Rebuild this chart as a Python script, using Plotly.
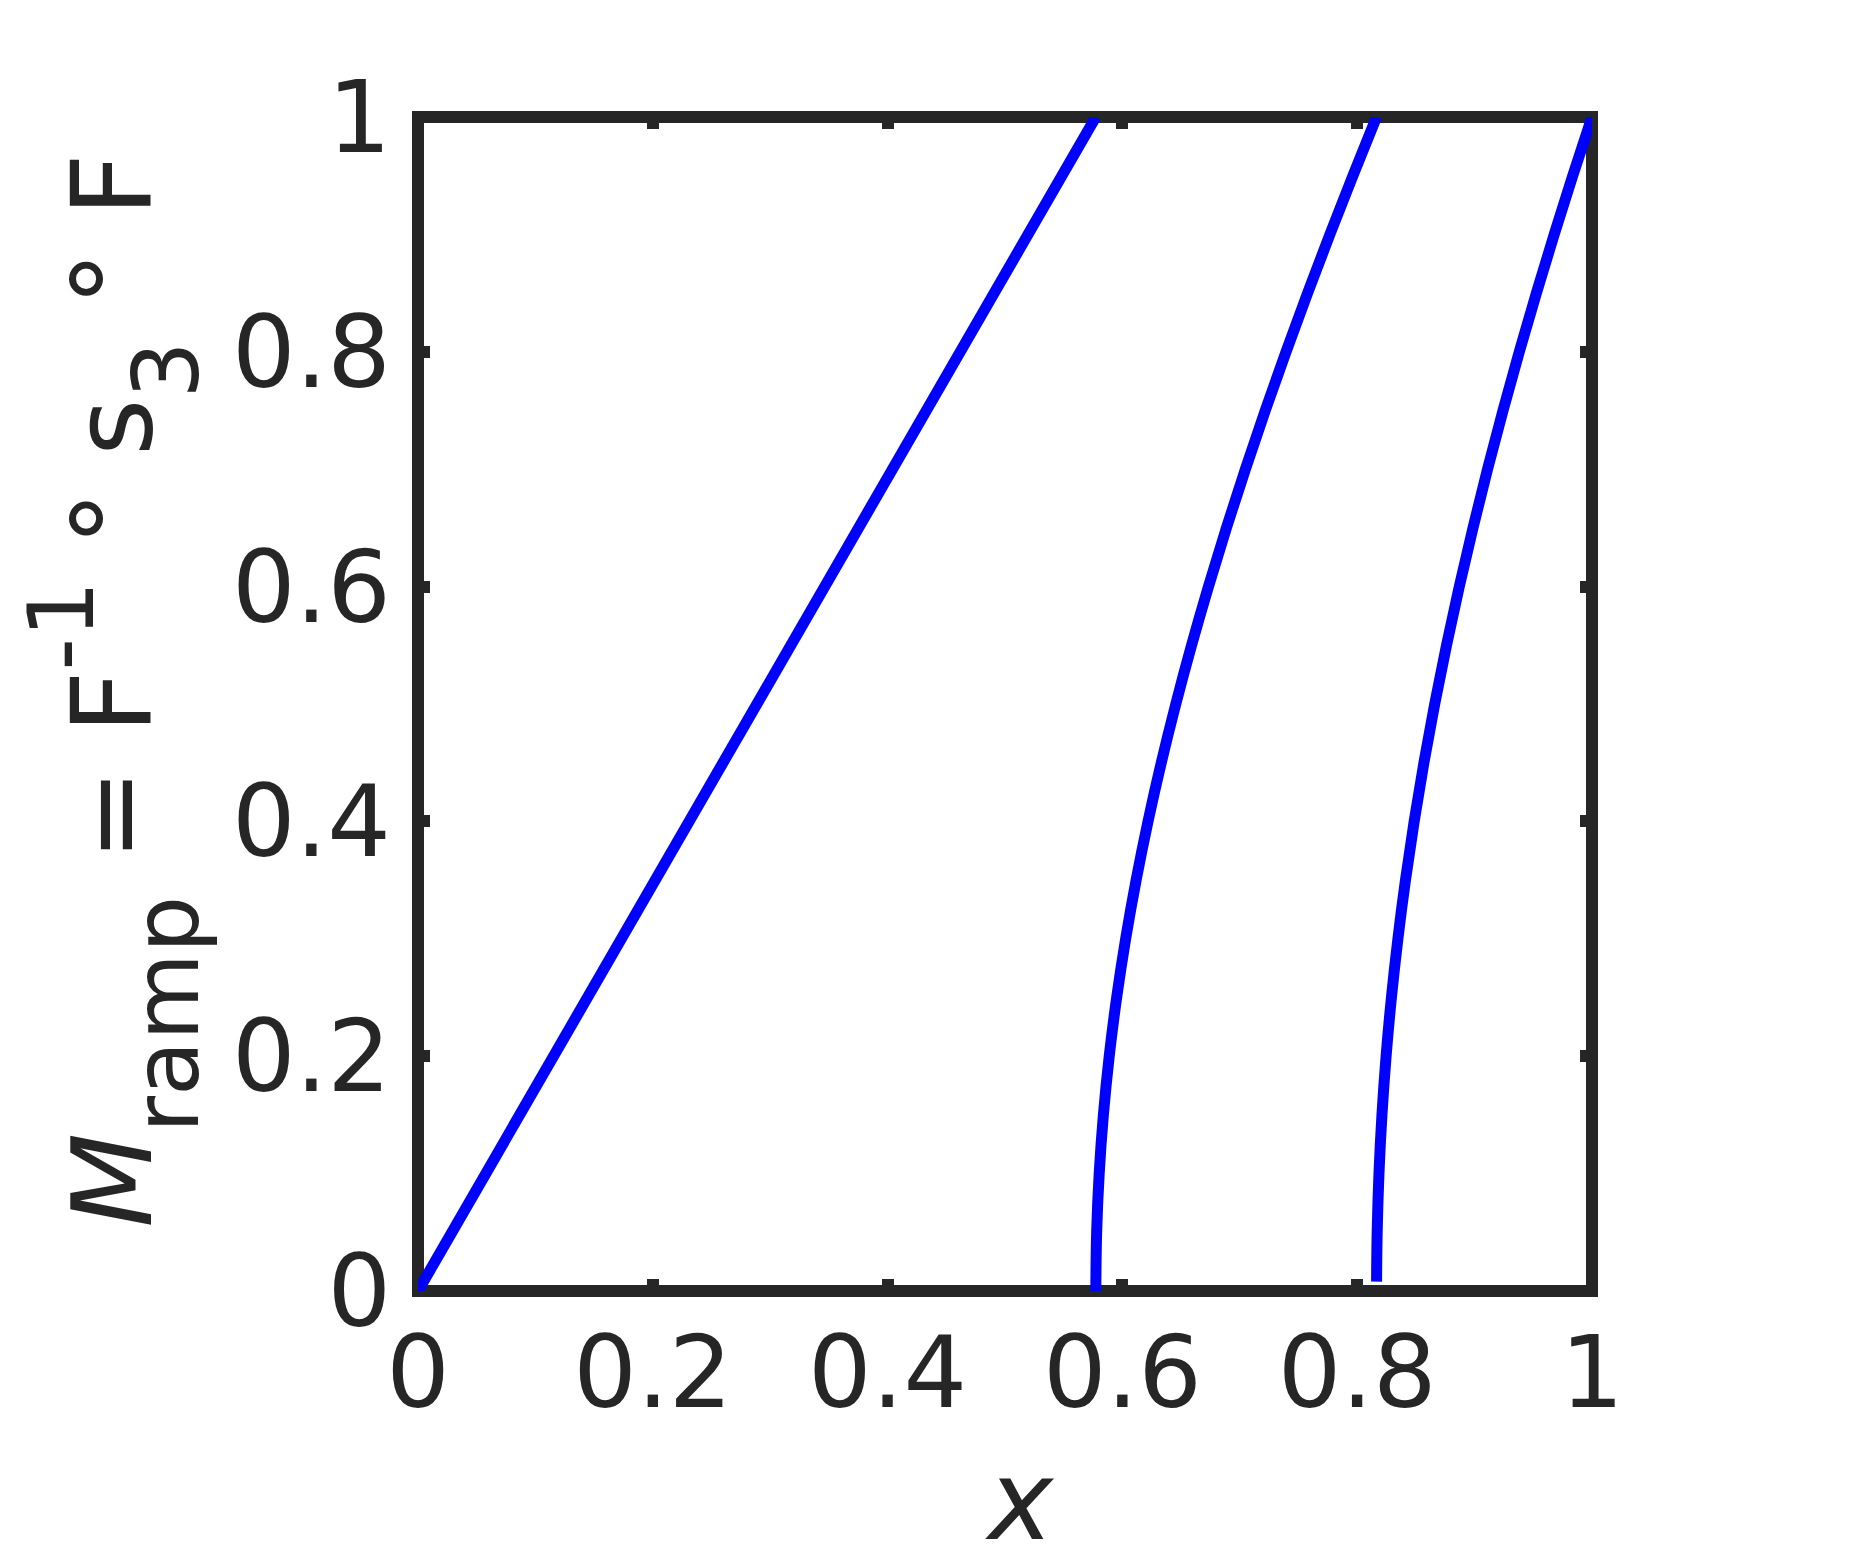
import plotly.graph_objects as go

# Branch 1 (linear)
b1_x = [0.0, 0.57735]
b1_y = [0.0, 1.0]

# Branch 2
b2_y = [0.0, 0.05, 0.1, 0.15, 0.2, 0.25, 0.3, 0.35, 0.4, 0.45, 0.5, 0.55,
        0.6, 0.65, 0.7, 0.75, 0.8, 0.85, 0.9, 0.95, 1.0]
b2_x = [0.57735, 0.57807, 0.58023, 0.58381, 0.58878, 0.59512, 0.60277,
        0.61170, 0.62183, 0.63311, 0.64550, 0.65891, 0.67330, 0.68860, 0.70475,
        0.72169, 0.73937, 0.75774, 0.77675, 0.79635, 0.81650]

# Branch 3
b3_y = [0.008, 0.05, 0.1, 0.15, 0.2, 0.25, 0.3, 0.35, 0.4, 0.45, 0.5, 0.55,
        0.6, 0.65, 0.7, 0.75, 0.8, 0.85, 0.9, 0.95, 1.0]
b3_x = [0.81650, 0.81701, 0.81854, 0.82108, 0.82462, 0.82916, 0.83467, 0.84113,
        0.84853, 0.85684, 0.86603, 0.87607, 0.88694, 0.89861, 0.91104, 0.92421,
        0.93808, 0.95263, 0.96782, 0.98362, 1.0]

tick_vals = [0, 0.2, 0.4, 0.6, 0.8, 1]
tick_text = ["0", "0.2", "0.4", "0.6", "0.8", "1"]

SUBF = "<span style='font-size:90px;baseline-shift:-24px'>{}</span>"
SUPF = "<span style='font-size:90px;baseline-shift:12px'>{}</span>"
x_title = "<i>x</i>"
y_title = ("<i>M</i><sub>" + SUBF.format("ramp") + "</sub> = F<sup>" + SUPF.format("-1")
           + "</sup> ° s<sub>" + SUBF.format("3") + "</sub> ° F")

BLUE = "#0000ff"
DARK = "#262626"
FONT = "DejaVu Sans"

fig = go.Figure()
for xs, ys in [(b1_x, b1_y), (b2_x, b2_y), (b3_x, b3_y)]:
    fig.add_trace(go.Scatter(x=xs, y=ys, mode="lines",
                             line=dict(color=BLUE, width=11, shape="spline", smoothing=1.0),
                             showlegend=False, hoverinfo="skip"))

axis_common = dict(
    range=[0, 1], tickvals=tick_vals, ticktext=tick_text,
    ticks="inside", ticklen=12, tickwidth=12, tickcolor=DARK,
    mirror="ticks", showline=False, showgrid=False, zeroline=False,
    automargin=False,
    tickfont=dict(family=FONT, size=100, color=DARK),
)

fig.update_xaxes(**axis_common, ticklabelstandoff=15)
fig.update_yaxes(**axis_common, ticklabelstandoff=26)

fig.add_shape(type="rect", xref="paper", yref="paper", x0=0, y0=0, x1=1, y1=1,
              line=dict(color=DARK, width=12), fillcolor="rgba(0,0,0,0)", layer="below")

fig.add_annotation(text=x_title, xref="paper", yref="paper", x=0.5128, y=-0.179,
                   xanchor="center", yanchor="middle", showarrow=False,
                   font=dict(family=FONT, size=110, color=DARK))
fig.add_annotation(text=y_title, xref="paper", yref="paper", x=-0.259, y=0.512,
                   xanchor="center", yanchor="middle", showarrow=False, textangle=-90,
                   font=dict(family=FONT, size=110, color=DARK))

# page body has an 8px default margin, so the figure is 8px smaller and margins shifted
fig.update_layout(
    width=1867, height=1555,
    margin=dict(l=410, r=283, t=109, b=272, pad=0),
    paper_bgcolor="white", plot_bgcolor="white",
    font=dict(family=FONT, color=DARK),
)

fig.write_html("out.html")
